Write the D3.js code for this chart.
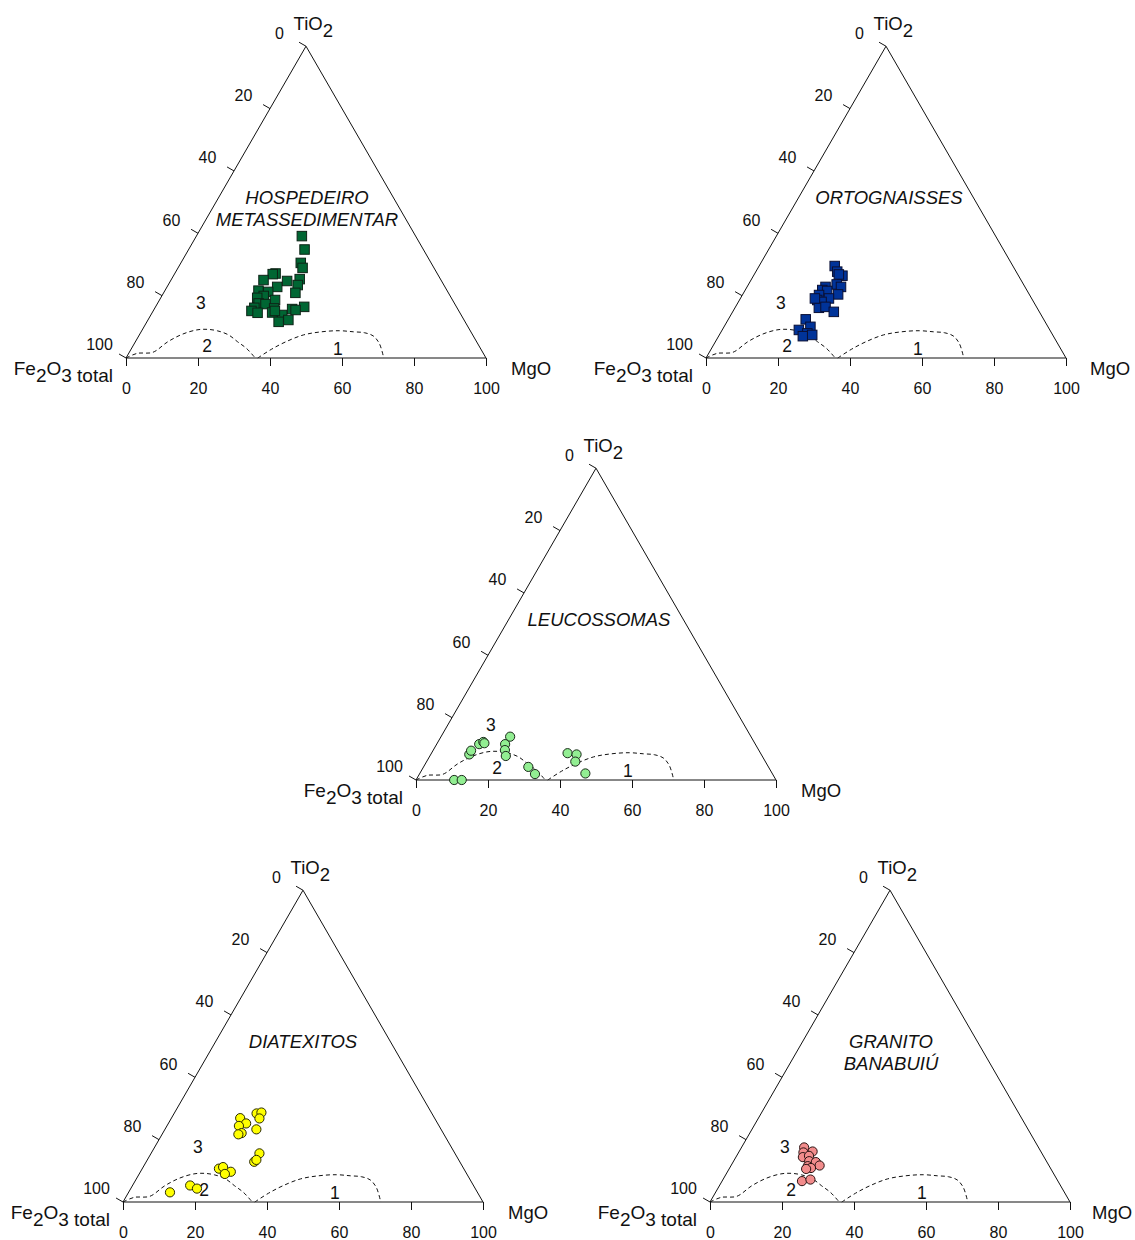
<!DOCTYPE html>
<html>
<head>
<meta charset="utf-8">
<script src="https://cdn.jsdelivr.net/npm/d3@7"></script>
<style>
  body { margin: 0; background: #fff; }
  text { font-family: "Liberation Sans", Arial, sans-serif; fill: #111; }
</style>
</head>
<body>
<svg id="chart" width="1135" height="1240"></svg>
<script>
// Fe2O3(total) – MgO – TiO2 ternary diagrams, one per lithological group.
// Every composition is stored as MgO % and TiO2 % (Fe2O3 total = remainder).

const tickValues = [0, 20, 40, 60, 80, 100];

// Field labels and boundaries of fields 1 and 2
const fieldNames = ["1", "2", "3"];
const fieldNameMgO = [57.4, 20.6, 12.0];
const fieldNameTiO2 = [2.9, 3.9, 17.6];

const field2MgO  = [0, 2.4, 6.5, 9.0, 11.8, 15.1, 17.9, 21.1, 24.8, 28.4, 31.9, 35.9];
const field2TiO2 = [0, 1.5, 1.8, 5.2, 7.6, 9.0, 9.2, 8.7, 7.4, 5.2, 3.1, 0];

const field1MgO  = [36.6, 39.0, 41.8, 45.6, 50.1, 54.9, 59.0, 62.2, 65.1, 68.0, 71.6];
const field1TiO2 = [0, 2.8, 5.2, 7.4, 8.4, 8.75, 8.4, 8.1, 7.1, 4.7, 0];

// Hospedeiro metassedimentar
const hospedeiroMgO  = [29.3, 32.2, 33.3, 34.6, 28.0, 27.3, 25.7, 32.4, 35.6, 36.0, 30.6, 26.0, 28.9, 36.6, 28.3, 26.8,
                        32.1, 28.1, 30.1, 41.3, 27.6, 33.2, 38.3, 39.4, 27.3, 29.3, 33.3, 36.5, 36.6, 39.0, 33.8];
const hospedeiroTiO2 = [39.1, 34.8, 30.5, 28.9, 27.1, 26.9, 25.0, 24.7, 25.3, 23.4, 22.8, 21.6, 21.2, 20.9, 19.9, 19.3,
                        18.6, 17.5, 17.3, 16.4, 16.1, 15.9, 15.7, 15.4, 15.1, 14.5, 14.6, 13.8, 11.6, 12.2, 15.1];

// Ortognaisses
const ortognaissesMgO  = [21.0, 22.6, 24.7, 23.5, 24.5, 26.1, 21.8, 21.4, 22.9, 26.5, 21.3, 24.6, 21.6, 23.1, 23.3, 25.0,
                          28.1, 21.5, 24.0, 21.3, 24.2, 23.4, 25.8, 20.7];
const ortognaissesTiO2 = [29.5, 27.7, 26.4, 26.8, 23.6, 22.8, 22.8, 21.8, 21.5, 20.4, 20.2, 19.1, 18.6, 18.0, 16.1, 16.4,
                          14.8, 12.4, 10.0, 9.0, 7.9, 7.0, 7.4, 19.1];

// Leucossomas
const leucossomasMgO  = [10.6, 12.7, 10.7, 10.6, 11.8, 12.6, 13.1, 19.2, 19.0, 19.9, 21.1, 29.1, 32.1, 37.8, 40.5, 41.3, 46.0];
const leucossomasTiO2 = [0, 0, 8.2, 9.4, 11.5, 12.2, 11.8, 13.9, 11.5, 9.6, 7.7, 4.2, 1.9, 8.6, 8.2, 5.9, 2.1];

// Diatexitos
const diatexitosMgO  = [11.5, 16.0, 18.4, 21.3, 22.2, 25.1, 23.8, 19.1, 21.6, 20.0, 21.9, 21.2, 22.9, 24.1, 24.5, 25.4,
                        30.1, 30.0, 30.3];
const diatexitosTiO2 = [3.1, 5.3, 4.3, 10.7, 11.2, 9.7, 9.0, 26.9, 25.2, 24.4, 22.1, 21.7, 28.4, 28.7, 26.8, 23.3,
                        15.6, 12.9, 13.5];

// Granito Banabuiú
const granitoMgO  = [17.4, 20.4, 18.0, 18.6, 20.1, 21.0, 23.0, 24.6, 21.4, 22.6, 21.4, 22.2, 24.3];
const granitoTiO2 = [17.5, 16.2, 15.9, 14.4, 14.8, 13.1, 12.8, 11.7, 11.5, 10.9, 10.6, 6.7, 7.2];

// Panel layout: corner of Fe2O3 (left) and base line of each triangle
const panels = [
  { title: ["HOSPEDEIRO", "METASSEDIMENTAR"], left: 126, base: 358, titleDx: 1, mgoDx: 25,
    mgo: hospedeiroMgO, tio2: hospedeiroTiO2, shape: "square", fill: "#006633", stroke: "#0d2316" },
  { title: ["ORTOGNAISSES"], left: 706, base: 358, titleDx: 3, mgoDx: 24,
    mgo: ortognaissesMgO, tio2: ortognaissesTiO2, shape: "square", fill: "#003399", stroke: "#0a0f33" },
  { title: ["LEUCOSSOMAS"], left: 416, base: 780, titleDx: 3, mgoDx: 25,
    mgo: leucossomasMgO, tio2: leucossomasTiO2, shape: "circle", fill: "#92EE92", stroke: "#1a2a1a" },
  { title: ["DIATEXITOS"], left: 123, base: 1202, titleDx: 0, mgoDx: 25,
    mgo: diatexitosMgO, tio2: diatexitosTiO2, shape: "circle", fill: "#FFFF00", stroke: "#2a2a00" },
  { title: ["GRANITO", "BANABUIÚ"], left: 710, base: 1202, titleDx: 1, mgoDx: 22,
    mgo: granitoMgO, tio2: granitoTiO2, shape: "circle", fill: "#F28C8C", stroke: "#2a1212" }
];

const W = 360;
const H = W * Math.sqrt(3) / 2;
const along = d3.scaleLinear().domain([0, 100]).range([0, W]);  // MgO along the base
const up = d3.scaleLinear().domain([0, 100]).range([0, H]);     // TiO2 height

// ternary -> local pixel position (origin at Fe2O3 corner)
const project = (m, t) => [along(m) + along(t) / 2, -up(t)];

const svg = d3.select("#chart");
svg.append("rect").attr("width", 1135).attr("height", 1240).attr("fill", "#fff");

const curve = d3.line().curve(d3.curveCatmullRom.alpha(0.5));

panels.forEach(p => {
  const g = svg.append("g").attr("transform", `translate(${p.left},${p.base})`);
  const apex = project(0, 100);

  // triangle frame
  g.append("path")
    .attr("d", d3.line()([project(0, 0), project(100, 0), apex]) + "Z")
    .attr("fill", "none").attr("stroke", "#111").attr("stroke-width", 1);

  // bottom axis: MgO
  const ax = g.append("g").call(d3.axisBottom(along).tickValues(tickValues).tickSize(8).tickPadding(17));
  ax.select(".domain").remove();
  ax.selectAll("line").attr("stroke", "#111");
  ax.selectAll("text").attr("font-size", 16).attr("fill", "#111")
    .attr("font-family", "'Liberation Sans', Arial, sans-serif");

  // left axis: Fe2O3 total (0 at apex, 100 at corner)
  const nx = -Math.cos(Math.PI / 6), ny = -Math.sin(Math.PI / 6);
  tickValues.forEach(v => {
    const q = project(0, 100 - v);
    g.append("line").attr("x1", q[0]).attr("y1", q[1])
      .attr("x2", q[0] + nx * 8).attr("y2", q[1] + ny * 8)
      .attr("stroke", "#111");
    g.append("text").attr("x", q[0] - 26.5).attr("y", q[1] - 7.7)
      .attr("text-anchor", "middle").attr("font-size", 16).text(v);
  });

  // corner titles
  const ti = g.append("text").attr("x", apex[0] - 12.4).attr("y", -328).attr("font-size", 18.5);
  ti.append("tspan").text("TiO");
  ti.append("tspan").attr("dy", 6.7).text("2");

  g.append("text").attr("x", W + p.mgoDx).attr("y", 17).attr("font-size", 18.5).text("MgO");

  const fe = g.append("text").attr("x", -13).attr("y", 17).attr("font-size", 19).attr("text-anchor", "end");
  fe.append("tspan").text("Fe");
  fe.append("tspan").attr("dy", 7).text("2");
  fe.append("tspan").attr("dy", -7).text("O");
  fe.append("tspan").attr("dy", 7).text("3 total");

  // field boundaries
  [[field2MgO, field2TiO2], [field1MgO, field1TiO2]].forEach(([ms, ts]) => {
    g.append("path")
      .attr("d", curve(ms.map((m, i) => project(m, ts[i]))))
      .attr("fill", "none").attr("stroke", "#111").attr("stroke-width", 1)
      .attr("stroke-dasharray", "4,3");
  });

  // group name
  p.title.forEach((line, i) => {
    g.append("text").attr("x", apex[0] + p.titleDx).attr("y", -154 + i * 22)
      .attr("text-anchor", "middle").attr("font-size", 18.5).attr("font-style", "italic")
      .text(line);
  });

  // samples
  const pts = p.mgo.map((m, i) => project(m, p.tio2[i]));
  if (p.shape === "square") {
    const s = 9.5;
    g.selectAll("rect.sample").data(pts).join("rect").attr("class", "sample")
      .attr("x", d => d[0] - s / 2).attr("y", d => d[1] - s / 2)
      .attr("width", s).attr("height", s)
      .attr("fill", p.fill).attr("stroke", p.stroke).attr("stroke-width", 1);
  } else {
    g.selectAll("circle.sample").data(pts).join("circle").attr("class", "sample")
      .attr("cx", d => d[0]).attr("cy", d => d[1]).attr("r", 4.6)
      .attr("fill", p.fill).attr("stroke", p.stroke).attr("stroke-width", 1);
  }

  // field numbers
  fieldNames.forEach((n, i) => {
    const q = project(fieldNameMgO[i], fieldNameTiO2[i]);
    g.append("text").attr("x", q[0]).attr("y", q[1] + 6.3)
      .attr("text-anchor", "middle").attr("font-size", 17.5).text(n);
  });
});
</script>
</body>
</html>
